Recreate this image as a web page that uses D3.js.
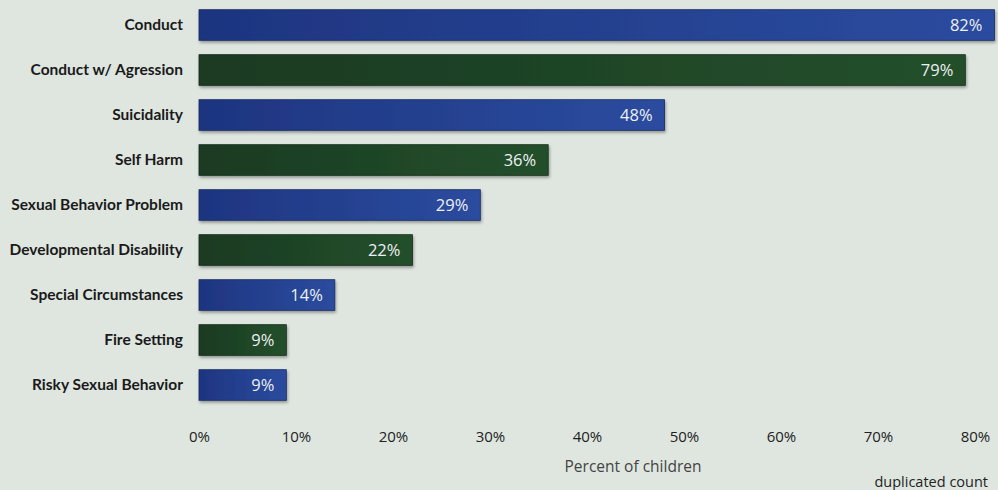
<!DOCTYPE html>
<html>
<head>
<meta charset="utf-8">
<script src="https://cdn.jsdelivr.net/npm/d3@7"></script>
<style>
  body { margin: 0; background: #dfe6e0; }
  svg { display: block; }
</style>
</head>
<body>
<script>
const categories = ["Conduct", "Conduct w/ Agression", "Suicidality", "Self Harm",
  "Sexual Behavior Problem", "Developmental Disability", "Special Circumstances",
  "Fire Setting", "Risky Sexual Behavior"];
const values = [82, 79, 48, 36, 29, 22, 14, 9, 9];
const tickValues = [0, 10, 20, 30, 40, 50, 60, 70, 80];

const W = 998, H = 490;
const left = 199;

const svg = d3.select("body").append("svg")
    .attr("width", W)
    .attr("height", H);

const defs = svg.append("defs");
const blue = defs.append("linearGradient").attr("id", "gBlue");
blue.append("stop").attr("offset", "0%").attr("stop-color", "#1e3580");
blue.append("stop").attr("offset", "100%").attr("stop-color", "#2b4c9f");
const green = defs.append("linearGradient").attr("id", "gGreen");
green.append("stop").attr("offset", "0%").attr("stop-color", "#1a3a22");
green.append("stop").attr("offset", "100%").attr("stop-color", "#24502c");

const shadow = defs.append("filter").attr("id", "shadow")
    .attr("x", "-5%").attr("y", "-20%").attr("width", "110%").attr("height", "150%");
shadow.append("feDropShadow").attr("dx", 1).attr("dy", 2).attr("stdDeviation", 1.5)
    .attr("flood-color", "#000").attr("flood-opacity", 0.35);

// scales
const x = d3.scaleLinear().domain([0, 80]).range([left, left + 776]);
const y = d3.scaleBand().domain(categories).range([2.5, 407.5]).paddingInner(0.32).paddingOuter(0.16);

const rows = svg.append("g").selectAll("g")
    .data(categories)
    .join("g");

rows.append("rect")
    .attr("x", x(0))
    .attr("y", d => y(d))
    .attr("width", (d, i) => x(values[i]) - x(0))
    .attr("height", y.bandwidth())
    .attr("fill", (d, i) => i % 2 === 0 ? "url(#gBlue)" : "url(#gGreen)")
    .attr("stroke", (d, i) => i % 2 === 0 ? "#17285e" : "#142a18")
    .attr("stroke-width", 0.8)
    .attr("filter", "url(#shadow)");

rows.append("text")
    .attr("x", (d, i) => x(values[i]) - 12)
    .attr("y", d => y(d) + y.bandwidth() / 2)
    .attr("dy", "0.36em")
    .attr("text-anchor", "end")
    .attr("fill", "#eef0f2")
    .style("font", "16.5px 'Open Sans', sans-serif")
    .text((d, i) => values[i] + "%");

// category labels
const yAxis = svg.append("g")
    .attr("transform", "translate(" + (left - 16) + ",0)")
    .call(d3.axisLeft(y).tickSize(0).tickPadding(0));
yAxis.select(".domain").remove();
yAxis.selectAll("text")
    .attr("fill", "#1a1a1a")
    .style("font", "bold 15.5px Lato, sans-serif");

// x axis
const xAxis = svg.append("g")
    .attr("transform", "translate(0,431)")
    .call(d3.axisBottom(x).tickValues(tickValues).tickSize(0).tickPadding(0)
      .tickFormat(d => d + "%"));
xAxis.select(".domain").remove();
xAxis.selectAll("text")
    .attr("dy", "0.71em")
    .attr("fill", "#222")
    .style("font", "15px 'Open Sans', sans-serif");

svg.append("text")
    .attr("x", 633)
    .attr("y", 472)
    .attr("text-anchor", "middle")
    .attr("fill", "#444")
    .style("font", "15.5px 'Open Sans', sans-serif")
    .text("Percent of children");

svg.append("text")
    .attr("x", 988)
    .attr("y", 487)
    .attr("text-anchor", "end")
    .attr("fill", "#222")
    .style("font", "14.5px 'Open Sans', sans-serif")
    .text("duplicated count");
</script>
</body>
</html>
